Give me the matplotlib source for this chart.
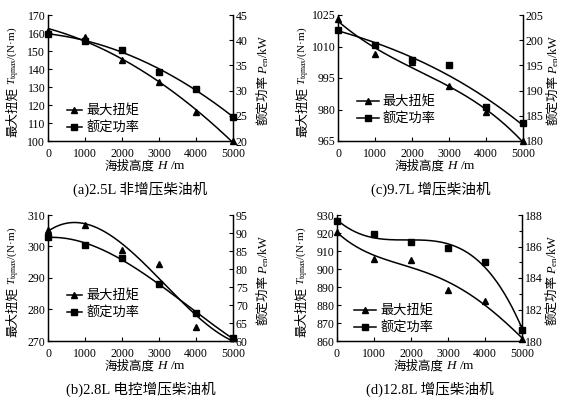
import matplotlib
matplotlib.use("Agg")
import matplotlib.pyplot as plt
import numpy as np
from matplotlib.ticker import MultipleLocator

plt.rcParams["font.family"] = ["Liberation Serif", "Noto Sans CJK SC"]
plt.rcParams["mathtext.fontset"] = "custom"
plt.rcParams["mathtext.rm"] = "Liberation Serif"
plt.rcParams["mathtext.it"] = "Liberation Serif:italic"
plt.rcParams["axes.unicode_minus"] = False

# altitude (m)
altitude = [0, 1000, 2000, 3000, 4000, 5000]

# (a) 2.5L naturally aspirated
torque_a = [161.3, 157.7, 145.1, 132.8, 116.0, 100.0]
power_a = [41.2, 39.9, 38.1, 33.7, 30.3, 24.8]
# (c) 9.7L turbocharged
torque_c = [1022.9, 1006.6, 1002.6, 991.1, 978.6, 965.0]
power_c = [202.1, 199.1, 196.0, 195.0, 186.8, 183.6]
# (b) 2.8L electronic turbo
torque_b = [305.2, 306.8, 299.0, 294.5, 274.5, 271.0]
power_b = [88.9, 86.8, 83.0, 75.7, 67.9, 60.7]
# (d) 12.8L turbocharged
torque_d = [920.8, 905.5, 905.1, 888.6, 882.0, 861.3]
power_d = [187.6, 186.8, 186.3, 185.9, 185.0, 180.7]

captions = ["(a)2.5L 非增压柴油机", "(c)9.7L 增压柴油机",
            "(b)2.8L 电控增压柴油机", "(d)12.8L 增压柴油机"]

W, H = 580, 400
fig = plt.figure(figsize=(5.8, 4.0), dpi=100)


def px_axes(left, top, w, h):
    return fig.add_axes([left / W, 1 - (top + h) / H, w / W, h / H])


def split_label(ax, x, y, cjk, rest, vertical=False, rest_size=9):
    # CJK part as plain text, symbol part chained right after it
    if vertical:
        t1 = ax.text(x, y, cjk, transform=ax.transAxes, rotation=90,
                     ha="center", va="top", fontsize=9)
        ax.annotate(rest, xy=(0.5, 1), xycoords=t1, xytext=(0, 1),
                    textcoords="offset points", rotation=90,
                    ha="center", va="bottom", fontsize=rest_size)
    else:
        t1 = ax.text(x, y, cjk, transform=ax.transAxes,
                     ha="right", va="center", fontsize=9)
        ax.annotate(rest, xy=(1, 0.5), xycoords=t1, xytext=(2, 0),
                    textcoords="offset points", ha="left", va="center", fontsize=rest_size)


panels = [
    # torque, power, left lim, left step, right lim, right step, right minor,
    # fit deg, pos, legend anchor, legend handle length
    (torque_a, power_a, (100, 170), 10, (20, 45), 5, None, (2, 2), (48, 15), (0.10, 0.05), 1.2),
    (torque_c, power_c, (965, 1025), 15, (180, 205), 5, None, (3, 3), (338, 15), (0.10, 0.12), 1.7),
    (torque_b, power_b, (270, 310), 10, (60, 95), 5, None, (3, 3), (48, 215), (0.10, 0.17), 1.2),
    (torque_d, power_d, (860, 930), 10, (180, 188), 2, 1, (4, 3), (337, 215), (0.09, 0.05), 1.7),
]

xs = np.linspace(0, 5000, 200)
for (tq, pw, llim, lstep, rlim, rstep, rminor, deg, pos, leg, hlen), cap in zip(panels, captions):
    ax = px_axes(pos[0], pos[1], 185, 126)
    ax2 = ax.twinx()

    # fitted trend curves
    ct = np.polyval(np.polyfit(altitude, tq, deg[0]), xs)
    cp = np.polyval(np.polyfit(altitude, pw, deg[1]), xs)
    ax.plot(xs, ct, color="black", lw=1.1)
    ax2.plot(xs, cp, color="black", lw=1.1)
    ax.plot(altitude, tq, ls="none", marker="^", ms=5, color="black", clip_on=False)
    ax2.plot(altitude, pw, ls="none", marker="s", ms=4.5, color="black", clip_on=False)

    ax.set_xlim(0, 5000)
    ax.set_ylim(*llim)
    ax2.set_ylim(*rlim)
    ax.xaxis.set_major_locator(MultipleLocator(1000))
    ax.set_yticks(np.arange(llim[0], llim[1] + 1, lstep))
    ax2.set_yticks(np.arange(rlim[0], rlim[1] + 1, rstep))
    if rminor:
        ax2.yaxis.set_minor_locator(MultipleLocator(rminor))
        ax2.tick_params(which="minor", direction="in", length=2.5, width=0.8)

    for a in (ax, ax2):
        a.tick_params(direction="in", length=3, width=0.8, labelsize=8.5, pad=2)
        for s in a.spines.values():
            s.set_linewidth(0.9)
    ax.tick_params(axis="x", pad=5)
    ax.spines["top"].set_visible(False)
    ax2.spines["top"].set_visible(False)

    split_label(ax, 0.575, -0.20, "海拔高度", "$\\mathit{H}$ /m", rest_size=9.5)
    split_label(ax, -0.19, 0.43, "最大扭矩", "$\\mathit{T}_{\\rm tqmax}$/(N·m)",
                vertical=True, rest_size=8)
    split_label(ax2, 1.165, 0.52, "额定功率", "$\\mathit{P}_{\\rm en}$/kW", vertical=True)

    h1 = plt.Line2D([], [], color="black", lw=1.1, marker="^", ms=5)
    h2 = plt.Line2D([], [], color="black", lw=1.1, marker="s", ms=4.5)
    ax.legend([h1, h2], ["最大扭矩", "额定功率"], loc="lower left", bbox_to_anchor=leg,
              frameon=False, fontsize=9.5, handlelength=hlen, handletextpad=0.3,
              labelspacing=0.3, borderaxespad=0, borderpad=0)

    ax.text(0.5, -0.38, cap, transform=ax.transAxes, ha="center", va="center", fontsize=10.5)

fig.savefig("out.png", dpi=100, facecolor="white")
